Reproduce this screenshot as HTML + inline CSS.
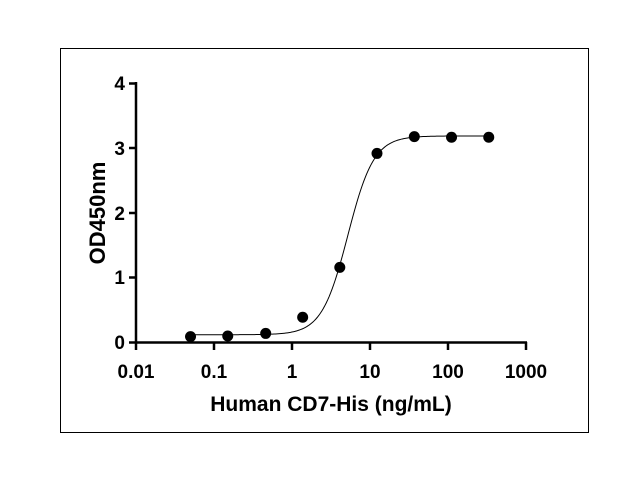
<!DOCTYPE html>
<html><head><meta charset="utf-8"><style>
html,body{margin:0;padding:0;background:#fff;}
svg{display:block;font-family:"Liberation Sans",Arial,sans-serif;font-weight:bold;}
</style></head><body>
<svg id="s" width="639" height="484" viewBox="0 0 639 484">
<rect x="60.5" y="48.5" width="528" height="384" fill="none" stroke="#000" stroke-width="1"/>
<g stroke="#000" stroke-width="2.5" fill="none">
<line x1="136" y1="82" x2="136" y2="343"/>
<line x1="135" y1="342.5" x2="527" y2="342.5"/>
<line x1="129" y1="83.5" x2="136" y2="83.5"/>
<line x1="129" y1="148" x2="136" y2="148"/>
<line x1="129" y1="213" x2="136" y2="213"/>
<line x1="129" y1="277.5" x2="136" y2="277.5"/>
<line x1="129" y1="342.5" x2="136" y2="342.5"/>
<line x1="136" y1="342" x2="136" y2="350"/>
<line x1="214" y1="342" x2="214" y2="350"/>
<line x1="292" y1="342" x2="292" y2="350"/>
<line x1="370" y1="342" x2="370" y2="350"/>
<line x1="448" y1="342" x2="448" y2="350"/>
<line x1="526" y1="342" x2="526" y2="350"/>
</g>
<g font-size="19" text-anchor="end">
<text x="125" y="90">4</text><text x="125" y="155">3</text><text x="125" y="220">2</text><text x="125" y="284">1</text><text x="125" y="349">0</text>
</g>
<g font-size="19" text-anchor="middle">
<text x="136" y="378">0.01</text><text x="214" y="378">0.1</text><text x="292" y="378">1</text><text x="370" y="378">10</text><text x="448" y="378">100</text><text x="526" y="378">1000</text>
</g>
<text x="331" y="411" font-size="21" text-anchor="middle">Human CD7-His (ng/mL)</text>
<text transform="translate(105,213) rotate(-90)" font-size="22" text-anchor="middle">OD450nm</text>
<path id="c" fill="none" stroke="#000" stroke-width="1"/>
<g id="pts" fill="#000"></g>
</svg>
<script>
var X=function(v){return 136+78*(Math.log10(v)+2);},Y=function(v){return 342.5-64.75*v;};
var d="";for(var i=0;i<=200;i++){var lx=Math.log10(0.05)+i*(Math.log10(333)-Math.log10(0.05))/200;var v=Math.pow(10,lx);var y=0.12+(3.19-0.12)/(1+Math.pow(5.2/v,2.6));d+=(i?"L":"M")+X(v).toFixed(2)+" "+Y(y).toFixed(2);}
document.getElementById("c").setAttribute("d",d);
var xs=[0.05,0.15,0.46,1.37,4.1,12.3,37,111,333],ys=[0.09,0.10,0.14,0.39,1.16,2.92,3.18,3.17,3.17],g=document.getElementById("pts"),h="";
for(var k=0;k<xs.length;k++){h+='<circle cx="'+X(xs[k])+'" cy="'+Y(ys[k])+'" r="5.5"/>';}
g.innerHTML=h;
</script>
</body></html>
